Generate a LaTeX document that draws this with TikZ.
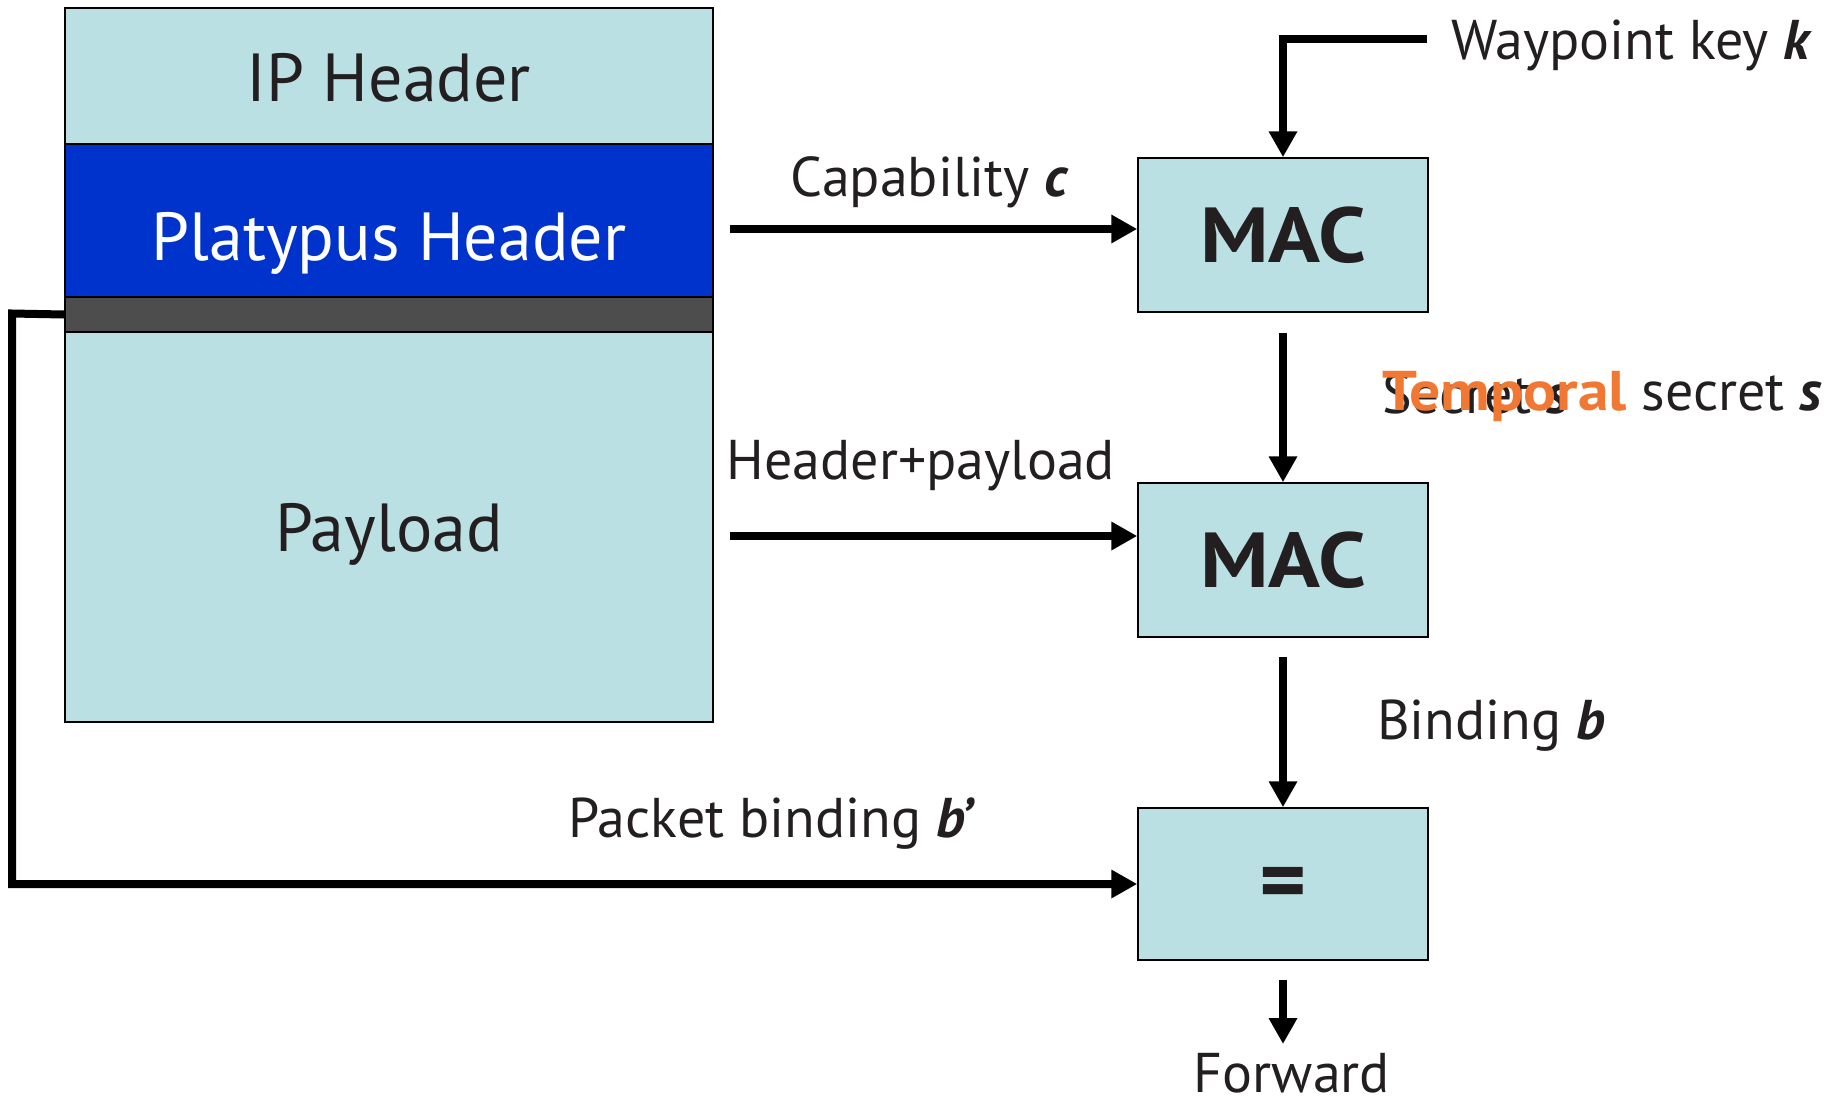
\documentclass[tikz,border=0pt]{standalone}
\usepackage{fontspec}
\setmainfont{PT Sans}
\usetikzlibrary{arrows.meta}
\definecolor{boxcyan}{HTML}{BAE0E3}
\definecolor{hdrblue}{HTML}{0033CC}
\definecolor{bandgray}{HTML}{4D4D4D}
\definecolor{orng}{HTML}{F07832}
\definecolor{txt}{HTML}{231F20}
\begin{document}
\begin{tikzpicture}[x=1pt,y=-1pt,
  part/.style={draw=black, line width=1.5pt, minimum width=648pt, inner sep=0pt},
  blk/.style={draw=black, line width=1.5pt, fill=boxcyan, minimum width=290pt, inner sep=0pt, text=txt, font=\fontsize{78}{82}\selectfont\bfseries},
  big/.style={inner sep=0pt, text=txt, font=\fontsize{68}{72}\selectfont},
  lbl/.style={inner sep=0pt, text=txt, font=\fontsize{56}{60}\selectfont},
  arr/.style={line width=8pt, -{Triangle[length=26pt,width=27pt]}}
]
\useasboundingbox (0,0) rectangle (1839,1096);
% packet
\node[part, fill=boxcyan, minimum height=136pt] (iph) at (389,76) {};
\node[part, fill=hdrblue, minimum height=153pt] (plh) at (389,220.5) {};
\node[part, fill=bandgray, minimum height=35pt] (band) at (389,314.5) {};
\node[part, fill=boxcyan, minimum height=390pt] (pay) at (389,527) {};
\node[big, anchor=base] (iptxt) at (389,101) {IP Header};
\node[big, anchor=base, text=white] (pltxt) at (389,260) {Platypus Header};
\node[big, anchor=base] (paytxt) at (389,551) {Payload};
% boxes
\node[blk, minimum height=154pt] (mac1) at (1283,235) {\scalebox{1.1}[1]{MAC}};
\node[blk, minimum height=154pt] (mac2) at (1283,560) {\scalebox{1.1}[1]{MAC}};
\node[blk, minimum height=152pt] (eq) at (1283,884) {};
\node[inner sep=0pt, text=txt, font=\fontsize{90}{94}\selectfont\bfseries] (eqtxt) at (1283.5,889.5) {=};
% free ends
\coordinate (wkstart) at (1427,38.7);
\coordinate (capstart) at (730,229);
\coordinate (hpstart) at (730,536);
\coordinate (fwdend) at (1283,1044);
% connectors
\draw[arr] (wkstart) -| (mac1.north);
\draw[arr] (capstart) -- (capstart -| mac1.west);
\draw[arr] (hpstart) -- (hpstart -| mac2.west);
\draw[arr, shorten <=20pt] (mac1.south) -- (mac2.north);
\draw[arr, shorten <=19pt] (mac2.south) -- (eq.north);
\draw[arr, shorten <=19pt] (eq.south) -- (fwdend);
\draw[arr] (band.west) -- (12,313.5) |- (eq.west);
% labels
\node[lbl, anchor=base west] (wk) at (1451,59) {Waypoint key \textbf{\textit{k}}};
\node[lbl, anchor=base] (cap) at (930,196) {Capability \textbf{\textit{c}}};
\node[lbl, anchor=base] (hp) at (921,479) {Header+payload};
\node[lbl, anchor=base west] (sec) at (1382,413) {Secret \textbf{\textit{s}}};
\node[lbl, anchor=base west] (tsec) at (1382,410) {\textcolor{orng}{\bfseries\scalebox{1.1}[1]{Temporal}} secret \textbf{\textit{s}}};
\node[lbl, anchor=base west] (bind) at (1377,739) {Binding \textbf{\textit{b}}};
\node[lbl, anchor=base] (pb) at (772,837) {Packet binding \textbf{\textit{b’}}};
\node[lbl, anchor=base] (fwd) at (1292,1092) {Forward};
\end{tikzpicture}
\end{document}
